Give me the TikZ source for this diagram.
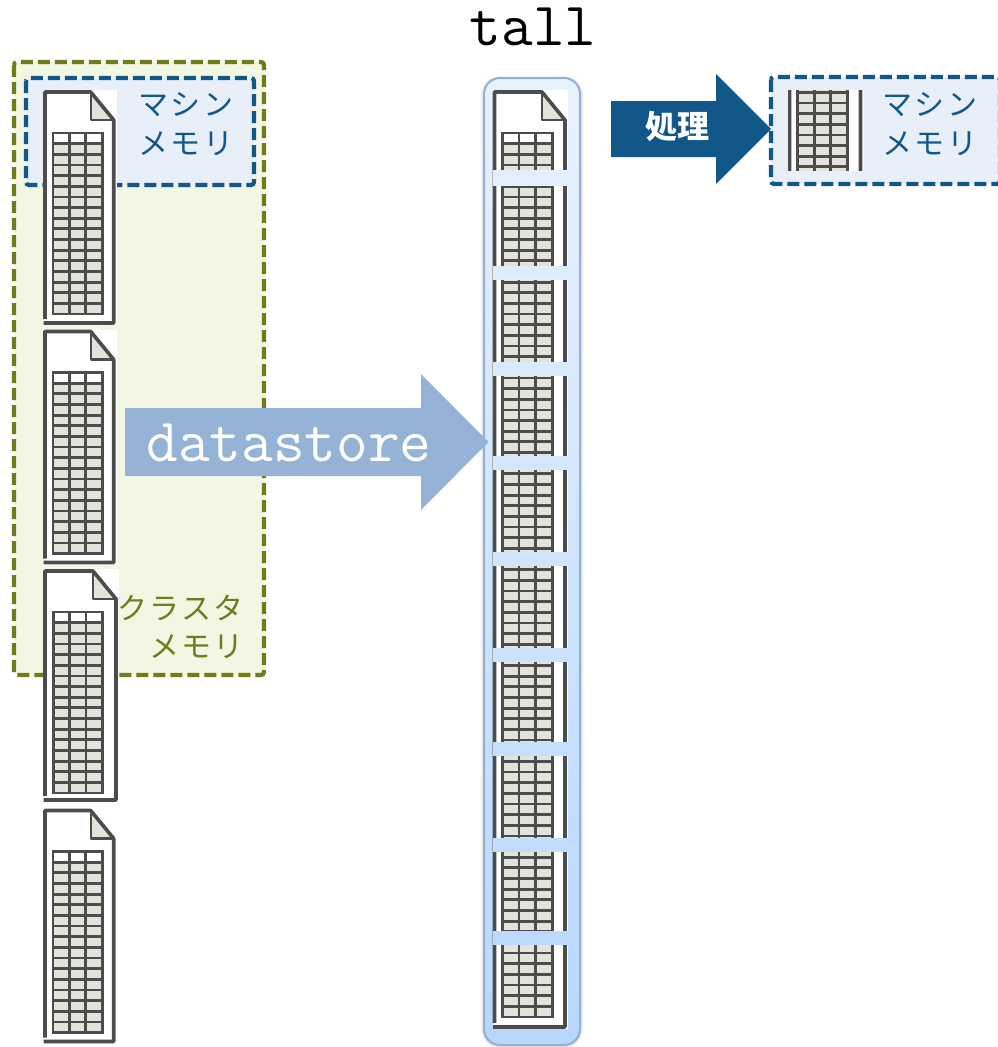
\documentclass[tikz,border=0pt]{standalone}
\usepackage{fontspec}
\newfontfamily\jpfont[LetterSpace=8]{Noto Sans CJK JP}
\newfontfamily\jpfontB{Noto Sans CJK JP}
\usetikzlibrary{positioning}
\definecolor{clusterVerde}{HTML}{6F7C1C}
\definecolor{clusterFondo}{HTML}{F3F6E2}
\definecolor{maquinaAzul}{HTML}{12578A}
\definecolor{maquinaFondo}{HTML}{E8EFF8}
\definecolor{flechaAzul}{HTML}{94B3D7}
\definecolor{tallBorde}{HTML}{8FB2D6}
\definecolor{tallArriba}{HTML}{E8F2FD}
\definecolor{tallAbajo}{HTML}{B7D7FB}
\definecolor{docGris}{HTML}{4C4C4C}
\definecolor{celdaGris}{HTML}{E3E2DB}
\tikzset{
  cajaDash/.style={line width=4.2pt, dash pattern=on 12pt off 5pt, rounded corners=3pt},
  etiqueta/.style={font=\jpfont\fontsize{30}{38.5}\selectfont, align=center, inner sep=0pt},
  monoTexto/.style={font=\ttfamily\fontsize{61.5}{61.5}\selectfont, inner sep=0pt},
  docBorde/.style={draw=docGris, line width=3.6pt, line join=round},
  docTabla/.style={draw=docGris, line width=2.8pt},
}
% x, y (top of the sheet), width, height, rows of the table
\newcommand{\docicon}[5]{
  \begin{scope}[shift={(#1,#2)}]
    \fill[white] (0,-2) rectangle (#3,#4+2);
    \fill[celdaGris] (#3-26,0) -- (#3-26,28) -- (#3-3,28) -- cycle;
    \draw[docBorde, line width=2.4pt] (#3-26,0) -- (#3-26,28) -- (#3-3,28);
    \draw[docBorde] (1.5,#4-4) -- (1.5,0) -- (#3-26,0) -- (#3-3,28) -- (#3-3,#4) -- (0,#4);
    \pgfmathsetmacro{\tablaL}{0.13*#3}
    \pgfmathsetmacro{\tablaR}{\tablaL+49.5}
    \pgfmathsetmacro{\tablaB}{41+10.65*#5}
    \fill[celdaGris] (\tablaL,51.6) rectangle (\tablaR,\tablaB);
    \draw[docTabla] (\tablaL,41) rectangle (\tablaR,\tablaB);
    \foreach \c in {0.33,0.66}
      \draw[docTabla] ({\tablaL+49.5*\c},41) -- ({\tablaL+49.5*\c},\tablaB);
    \foreach \r in {1,...,#5}
      \draw[docTabla] (\tablaL,41+10.65*\r) -- (\tablaR,41+10.65*\r);
  \end{scope}
}

\begin{document}
\begin{tikzpicture}[x=1pt,y=-1pt]
  \useasboundingbox (0,0) rectangle (997,1047);

  % cluster and machine boxes
  \filldraw[clusterVerde, fill=clusterFondo, cajaDash] (14,62) rectangle (264,675);
  \filldraw[maquinaAzul, fill=maquinaFondo, cajaDash] (26,78) rectangle (254,185);
  \node[etiqueta, text=maquinaAzul] (maquinaIzq) at (186,124) {マシン\\メモリ};
  \node[etiqueta, text=clusterVerde, align=right, anchor=east] (cluster) at (244,627) {クラスタ\\メモリ};

  % files
  \docicon{43.5}{92}{73.2}{231}{17}
  \docicon{43.5}{331.5}{73.2}{231}{17}
  \docicon{43.5}{571}{75.5}{229}{17}
  \docicon{43.5}{810.5}{73.2}{231}{17}

  % tall array
  \foreach \s/\o in {7/.03,5/.04,3/.06}
    \draw[black, opacity=\o, line width=\s pt, rounded corners=16pt] (484,79) rectangle (580,1045);
  \shade[top color=tallArriba, bottom color=tallAbajo, rounded corners=16pt] (484,78) rectangle (580,1045);
  \docicon{493}{92}{75}{935}{83}
  \foreach \a/\b in {170/186,266/280,362/376,456/470,552/566,648/662,742/756,838/852,931/945}{
    \pgfmathtruncatemacro{\mezcla}{100-(\a-78)/9.67}
    \fill[tallArriba!\mezcla!tallAbajo] (493,\a) rectangle (569,\b);
  }
  \draw[tallBorde, line width=2pt, rounded corners=16pt] (484,78) rectangle (580,1045);
  \node[monoTexto] (tall) at (533,27) {tall};

  % datastore arrow
  \fill[flechaAzul] (125,408) -- (421,408) -- (421,374) -- (488.5,442) -- (421,510) -- (421,476) -- (125,476) -- cycle;
  \node[monoTexto, text=white] (datastore) at (289,443) {datastore};

  % machine on the right
  \fill[maquinaAzul] (611,101) -- (716,101) -- (716,74) -- (771,129) -- (716,184) -- (716,157) -- (611,157) -- cycle;
  \node[font=\jpfontB\bfseries\fontsize{32}{32}\selectfont, text=white, inner sep=0pt] (proceso) at (677,127) {処理};
  \filldraw[maquinaAzul, fill=maquinaFondo, cajaDash] (771,77) rectangle (1000,184);
  \begin{scope}
    \clip (788,90) rectangle (863.5,170);
    \docicon{788}{30}{75.5}{231}{17}
  \end{scope}
  \node[etiqueta, text=maquinaAzul] (maquinaDer) at (930,124) {マシン\\メモリ};
\end{tikzpicture}
\end{document}
